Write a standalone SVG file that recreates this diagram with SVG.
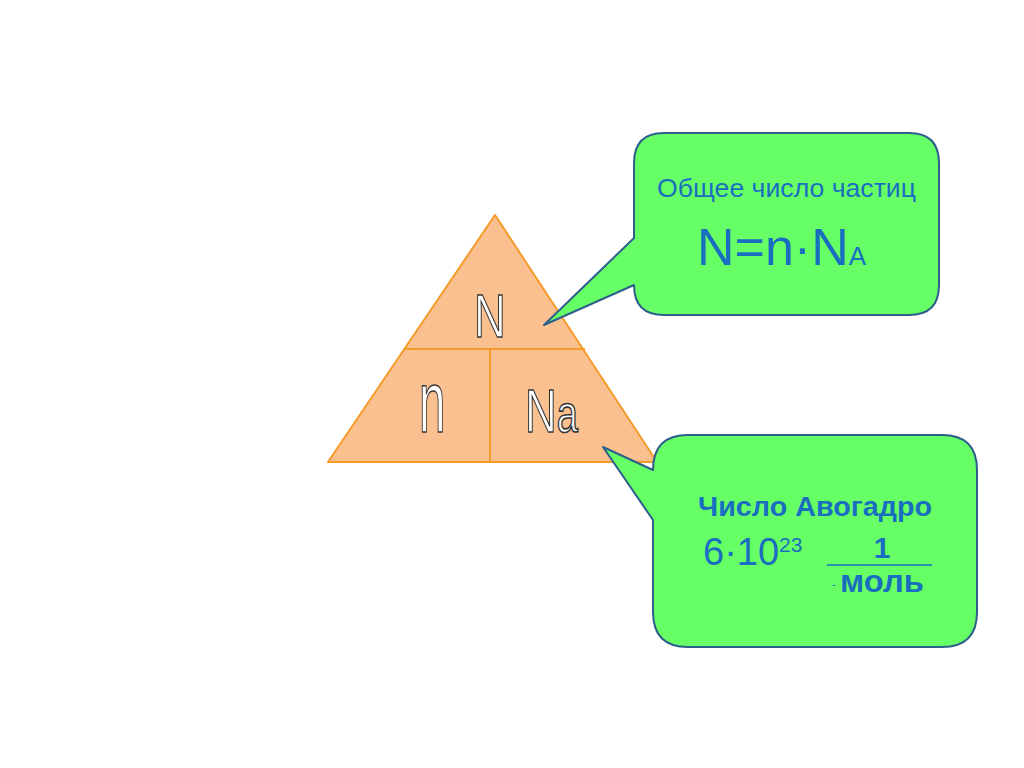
<svg xmlns="http://www.w3.org/2000/svg" width="1024" height="768" viewBox="0 0 1024 768">
<style>
.tri{fill:#FAC090;stroke:#F59B2A;stroke-width:2;stroke-linejoin:round}
.div{stroke:#F59B2A;stroke-width:2;fill:none}
.out{font-family:"Liberation Sans",Arial,sans-serif;fill:#fff;stroke:#333;stroke-width:1.2;vector-effect:non-scaling-stroke}
.call{fill:#66FF66;stroke:#2E5E8A;stroke-width:2;stroke-linejoin:round}
.t{font-family:"Liberation Sans",Arial,sans-serif;fill:#1A6EC0}
.b{font-weight:bold}
</style>
<rect width="1024" height="768" fill="#fff"/>
<g id="triangle">
<polygon class="tri" points="495,215 657,462 328,462"/>
<line class="div" x1="405" y1="349" x2="585" y2="349"/>
<line class="div" x1="490" y1="349" x2="490" y2="462"/>
<text class="out" transform="translate(474,337) scale(1,1.4)" font-size="44">N</text>
<text class="out" transform="translate(419,432) scale(0.95,1.75)" font-size="50">n</text>
<text class="out" transform="translate(525,432) scale(1,1.4)" font-size="44">N<tspan font-size="38">a</tspan></text>
</g>
<g id="callout-total">
<path class="call" d="M664 133 H909 Q939 133 939 163 V285 Q939 315 909 315 H664 Q634 315 634 285 L544 325 L634 238 V163 Q634 133 664 133 Z"/>
<text class="t" x="657" y="197" font-size="25" textLength="259" lengthAdjust="spacingAndGlyphs">Общее число частиц</text>
<text class="t" x="697" y="265" font-size="52">N=n·N<tspan font-size="26">A</tspan></text>
</g>
<g id="callout-avogadro">
<path class="call" d="M688 435 H942 Q977 435 977 470 V612 Q977 647 942 647 H688 Q653 647 653 612 V520 L603 447 L653 470 Q653 435 688 435 Z"/>
<text class="t b" x="698" y="516" font-size="28" textLength="234" lengthAdjust="spacingAndGlyphs">Число Авогадро</text>
<text class="t" x="703" y="565" font-size="38">6·10<tspan font-size="21" dy="-13">23</tspan></text>
<line x1="827" y1="565" x2="932" y2="565" stroke="#1A6EC0" stroke-width="1.5"/>
<text class="t b" x="882" y="558" font-size="30" text-anchor="middle">1</text>
<text class="t" x="832" y="588" font-size="11">-</text>
<text class="t b" x="840" y="592" font-size="31" textLength="84" lengthAdjust="spacingAndGlyphs">моль</text>
</g>
<g id="connectors"/>
</svg>
